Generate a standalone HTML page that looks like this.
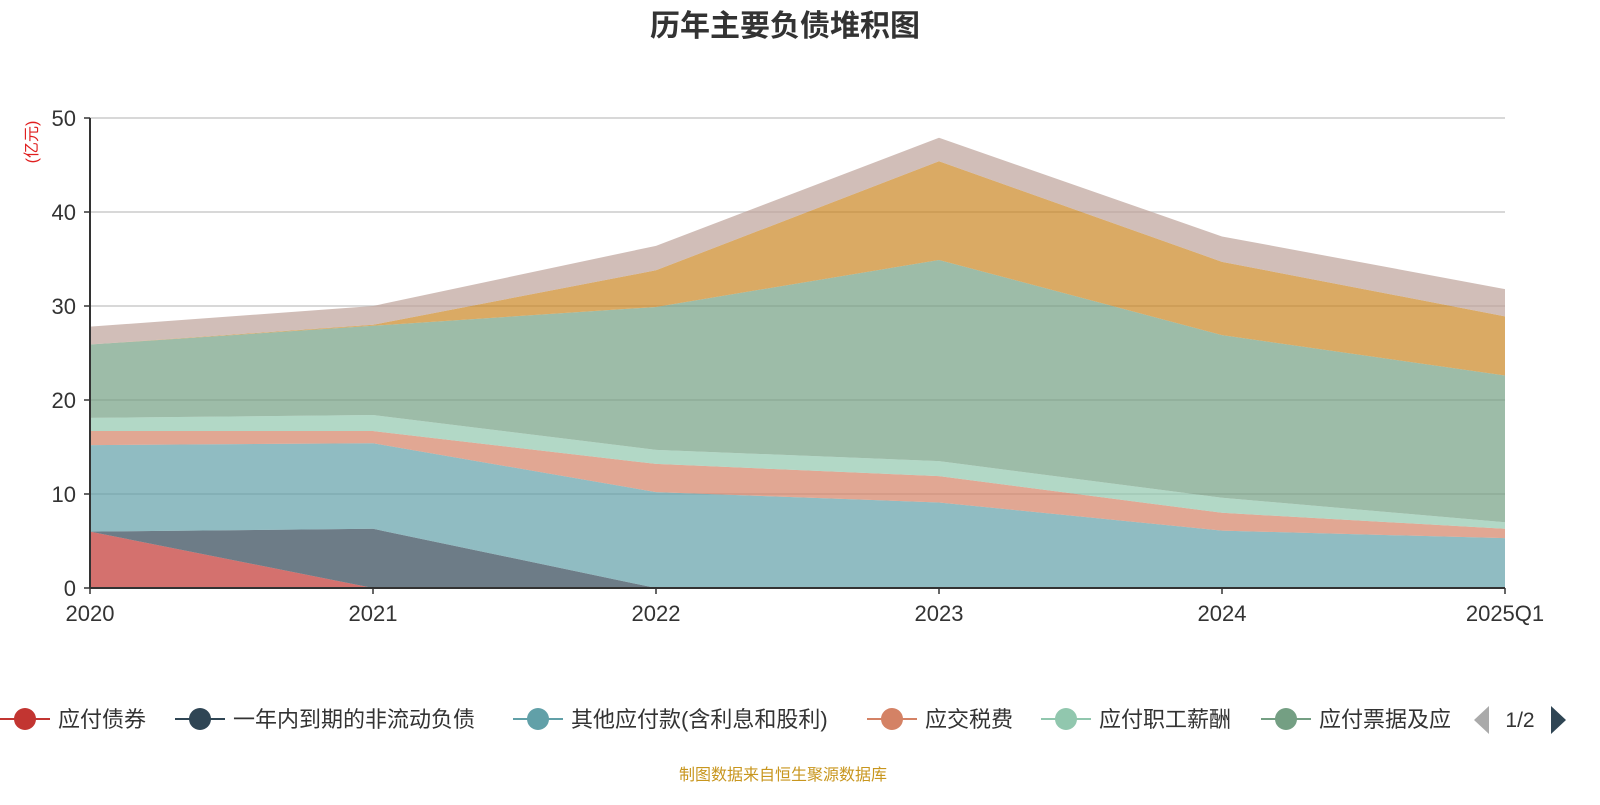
<!DOCTYPE html>
<html><head><meta charset="utf-8"><style>
body{margin:0;background:#fff;width:1600px;height:800px;overflow:hidden;font-family:"Liberation Sans","Noto Sans CJK SC",sans-serif}
</style></head><body>
<svg id="chart" width="1600" height="800" xmlns="http://www.w3.org/2000/svg">
<text x="785" y="36" text-anchor="middle" font-size="30" font-weight="bold" fill="#333" font-family="Liberation Sans,Noto Sans CJK SC,sans-serif">历年主要负债堆积图</text>
<text transform="translate(37,142) rotate(-90)" text-anchor="middle" font-size="16" fill="#e02020" font-family="Liberation Sans,Noto Sans CJK SC,sans-serif">(亿元)</text>
<g id="grid"></g><g id="areas"></g><g id="axes"></g><g id="legend"></g>
<text x="783" y="780" text-anchor="middle" font-size="16" fill="#c8961e" font-family="Liberation Sans,Noto Sans CJK SC,sans-serif">制图数据来自恒生聚源数据库</text>
</svg>
<script>
const categories=["2020","2021","2022","2023","2024","2025Q1"];
const yTicks=[0,10,20,30,40,50];
const seriesNames=["应付债券","一年内到期的非流动负债","其他应付款(含利息和股利)","应交税费","应付职工薪酬","应付票据及应付账款","合同负债","其他"];
const sBonds=[6.0,0,0,0,0,0];
const sCurrentNonCurrent=[0,6.3,0,0,0,0];
const sOtherPayables=[9.2,9.1,10.2,9.1,6.1,5.3];
const sTaxes=[1.5,1.3,3.0,2.8,1.9,1.0];
const sSalaries=[1.4,1.7,1.5,1.6,1.6,0.7];
const sNotesAccounts=[7.8,9.5,15.2,21.4,17.3,15.6];
const sContract=[0,0.1,3.9,10.5,7.8,6.3];
const sOther=[1.9,2.0,2.6,2.5,2.7,2.9];
const seriesValues=[sBonds,sCurrentNonCurrent,sOtherPayables,sTaxes,sSalaries,sNotesAccounts,sContract,sOther];
const colors=["#c23531","#2f4554","#61a0a8","#d48265","#91c7ae","#749f83","#ca8622","#bda29a"];
const X0=90,X1=1505,Y0=588,Y1=118,YMAX=50;
const xs=i=>X0+(X1-X0)*i/(categories.length-1);
const ys=v=>Y0-(Y0-Y1)*v/YMAX;
const NS="http://www.w3.org/2000/svg";
function mk(tag,attrs,parent){const e=document.createElementNS(NS,tag);for(const k in attrs)e.setAttribute(k,attrs[k]);parent.appendChild(e);return e;}
const grid=document.getElementById('grid'),areas=document.getElementById('areas'),axes=document.getElementById('axes'),legend=document.getElementById('legend');
const F="Liberation Sans,Noto Sans CJK SC,sans-serif";
yTicks.forEach(t=>{
 if(t>0){const l=mk('line',{x1:X0,x2:X1,y1:ys(t),y2:ys(t),stroke:'#ccc','stroke-width':1.5},grid);
 
 }
 const tk=mk('line',{x1:X0-6,x2:X0,y1:ys(t),y2:ys(t),stroke:'#333','stroke-width':1.5},axes);
 
 
 const tx=mk('text',{x:X0-14,y:ys(t)+8,'text-anchor':'end','font-size':22,fill:'#333','font-family':F},axes);tx.textContent=t;
 
 
});
let cum=categories.map(()=>0);
seriesValues.forEach((vals,si)=>{
 const lower=cum.slice();const upper=cum.map((c,i)=>c+vals[i]);
 let d=upper.map((v,i)=>(i?'L':'M')+xs(i)+','+ys(v)).join(' ');
 for(let i=categories.length-1;i>=0;i--)d+=' L'+xs(i)+','+ys(lower[i]);
 const p=mk('path',{d:d+'Z',fill:colors[si],'fill-opacity':0.7,stroke:'none'},areas);
 
 
 cum=upper;
});
const ax=mk('line',{x1:X0,x2:X1,y1:Y0,y2:Y0,stroke:'#333','stroke-width':2},axes);


const ay=mk('line',{x1:X0,x2:X0,y1:Y0,y2:Y1,stroke:'#333','stroke-width':2},axes);


categories.forEach((c,i)=>{
 const tk=mk('line',{x1:xs(i),x2:xs(i),y1:Y0,y2:Y0+6,stroke:'#333','stroke-width':1.5},axes);
 
 
 const tx=mk('text',{x:xs(i),y:Y0+33,'text-anchor':'middle','font-size':22,fill:'#333','font-family':F},axes);tx.textContent=c;
 
 
});
const legX=[0,175,513,867,1041,1261];
legX.forEach((lx,i)=>{
 const g=mk('g',{},legend);
 
 
 mk('line',{x1:lx,x2:lx+50,y1:719,y2:719,stroke:colors[i],'stroke-width':2},g);
 mk('circle',{cx:lx+25,cy:719,r:11,fill:colors[i]},g);
 const t=mk('text',{x:lx+58,y:727,'font-size':22,fill:'#333','font-family':F},g);t.textContent=i==5?'应付票据及应':seriesNames[i];
});
const pl=mk('path',{d:'M1489,706 L1474,720 L1489,734 Z',fill:'#aaa'},legend);


const pt=mk('text',{x:1520,y:727,'text-anchor':'middle','font-size':21,fill:'#333','font-family':F},legend);pt.textContent='1/2';


const pn=mk('path',{d:'M1551,706 L1566,720 L1551,734 Z',fill:'#2f4554'},legend);


</script>
</body></html>
